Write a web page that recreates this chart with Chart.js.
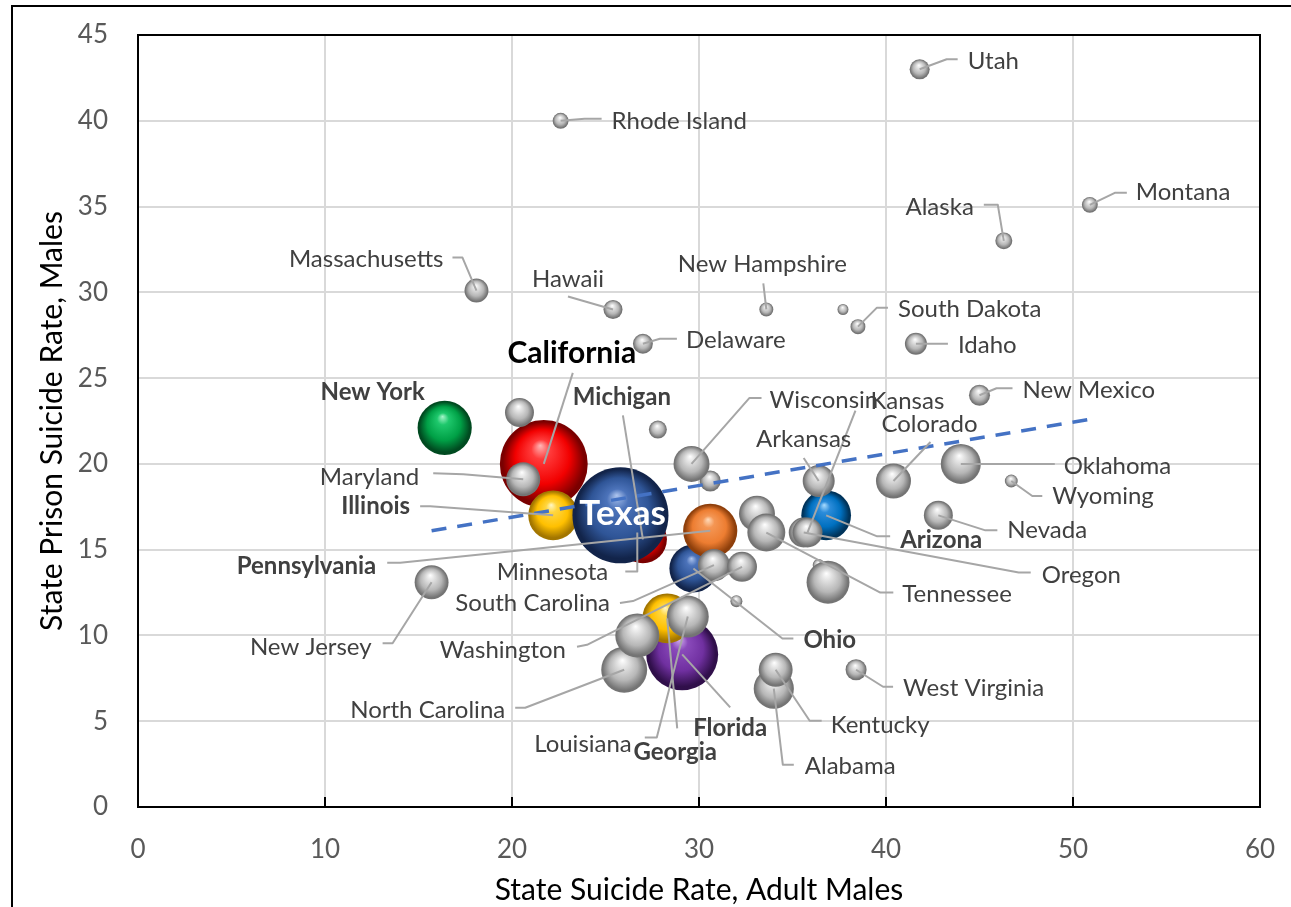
<!DOCTYPE html>
<html>
<head>
<meta charset="utf-8">
<title>State Prison Suicide Rate vs State Suicide Rate, Males</title>
<script src="https://cdn.jsdelivr.net/npm/chart.js"></script>
<style>
  html, body { margin: 0; padding: 0; background: #fff; overflow: hidden; }
  canvas { display: block; }
</style>
</head>
<body>
<canvas id="chart" width="1291" height="907"></canvas>
<script>
// ---- data (listed in drawing order: colour-highlighted states first, then the rest) ----
const stateNames = [
  'Minnesota', 'Michigan', 'California', 'Illinois', 'Texas', 'New York', 'Ohio', 'Pennsylvania', 'Florida', 'Georgia', 'Arizona',
  'Utah', 'Rhode Island', 'Montana', 'Alaska', 'Massachusetts', 'Hawaii', 'New Hampshire', '', 'South Dakota', 'Delaware',
  'Idaho', '', '', 'New Mexico', '', 'Wisconsin', 'Arkansas', 'Oregon', 'Kansas', 'Colorado',
  'Oklahoma', 'Wyoming', 'Nevada', '', 'Tennessee', '', '', '', 'South Carolina', 'Washington',
  'New Jersey', 'Maryland', 'West Virginia', 'Alabama', 'Kentucky', 'North Carolina', '', 'Louisiana'
];

// State suicide rate, adult males (x)
const adultMaleRate = [
  26.7, 27.0, 21.7, 22.2, 25.8, 16.4, 29.7, 30.6, 29.1, 28.3, 36.8,
  41.8, 22.6, 50.9, 46.3, 18.1, 25.4, 33.6, 37.7, 38.5, 27.0,
  41.6, 20.4, 27.8, 45.0, 30.6, 29.6, 36.4, 35.6, 35.8, 40.4,
  44.0, 46.7, 42.8, 33.1, 33.6, 36.4, 36.9, 32.0, 30.8, 32.3,
  15.7, 20.6, 38.4, 34.0, 34.1, 26.0, 26.7, 29.4
];

// State prison suicide rate, males (y)
const prisonMaleRate = [
  16.0, 15.6, 20.0, 17.0, 17.0, 22.1, 13.9, 16.1, 8.9, 11.0, 17.0,
  43.0, 40.0, 35.1, 33.0, 30.1, 29.0, 29.0, 29.0, 28.0, 27.0,
  27.0, 23.0, 22.0, 24.0, 19.0, 20.0, 19.0, 16.0, 16.0, 19.0,
  20.0, 19.0, 17.0, 17.1, 16.0, 14.1, 13.1, 12.0, 14.1, 14.0,
  13.1, 19.1, 8.0, 6.9, 8.0, 8.0, 10.0, 11.1
];

// Bubble size variable (thousands)
const bubbleSize = [
  10, 40, 134, 43, 160, 51, 40, 51, 90, 43, 43,
  7, 4.4, 4.4, 5, 10, 6.3, 3.4, 2.1, 3.9, 6.9,
  8.4, 14.6, 5.6, 7.7, 7.7, 22.5, 17.8, 15.6, 15.6, 21.3,
  27.8, 2.9, 14.6, 22.5, 25, 2.5, 32, 2.5, 17.8, 15.6,
  20, 20, 7.7, 28, 20, 36.7, 33.6, 30.6
];

// Linear trend line end points
const trendX = [15.7, 50.9];
const trendY = [16.1, 22.6];

// Axis ticks
const xTickValues = [0, 10, 20, 30, 40, 50, 60];
const yTickValues = [0, 5, 10, 15, 20, 25, 30, 35, 40, 45];

// ---- styling ----
const FONT = 'Lato, "Open Sans", "Noto Sans", sans-serif';
const MAX_RADIUS = 48;
const maxSize = Math.max(...bubbleSize);

const bubbleColors = {
  'California': 'red', 'Michigan': 'red', 'New York': 'green', 'Texas': 'navy', 'Ohio': 'navy',
  'Illinois': 'yellow', 'Georgia': 'yellow', 'Pennsylvania': 'orange', 'Arizona': 'blue', 'Florida': 'purple'
};
// highlight, light, base, rim
const sphereTones = {
  gray:   ['#ffffff', '#e4e4e4', '#b7b7b7', '#747474'],
  red:    ['#ffb8b8', '#ff3a3a', '#f20000', '#7a0000'],
  green:  ['#a6f5ca', '#1ec86c', '#00a046', '#004a20'],
  navy:   ['#adc4ee', '#4c73ba', '#2f5597', '#12244a'],
  yellow: ['#fff8c8', '#ffd640', '#ffc000', '#a37600'],
  orange: ['#ffdcbc', '#f49654', '#ed7d31', '#8e3f0b'],
  blue:   ['#aadcff', '#2c8cda', '#0070c0', '#00335a'],
  purple: ['#d4b2f2', '#8a4abb', '#7030a0', '#300f4a']
};

// Label placement: offsets in px from the bubble centre
const labelLayout = {
  'Utah':           { at: [48, -8],    align: 'left',   leader: [[27, -10], [38, -10]] },
  'Rhode Island':   { at: [51, 0],     align: 'left',   leader: [[24, -2], [41, -2]] },
  'Montana':        { at: [46, -13],   align: 'left',   leader: [[25, -12], [37, -12]] },
  'Alaska':         { at: [-30, -34],  align: 'right',  leader: [[-6, -36], [-20, -36]] },
  'Massachusetts':  { at: [-33, -31],  align: 'right',  leader: [[-14, -33], [-24, -33]] },
  'Hawaii':         { at: [-45, -30],  align: 'center', leader: [[-45, -13]] },
  'New Hampshire':  { at: [-4, -45],   align: 'center', leader: [[-3, -26]] },
  'South Dakota':   { at: [40, -17],   align: 'left',   leader: [[19, -19], [30, -19]] },
  'Delaware':       { at: [43, -4],    align: 'left',   leader: [[17, -5], [34, -5]] },
  'Idaho':          { at: [42, 1],     align: 'left',   leader: [[32, 0]] },
  'California':     { at: [28, -111],  align: 'center', leader: [[29, -91]], bold: true, size: 30, color: '#000000' },
  'New York':       { at: [-72, -36],  align: 'center', bold: true },
  'Michigan':       { at: [-21, -142], align: 'center', leader: [[-20, -124]], bold: true },
  'Wisconsin':      { at: [78, -64],   align: 'left',   leader: [[58, -66], [70, -66]] },
  'Kansas':         { at: [63, -131],  align: 'left',   leader: [[48, -122]] },
  'Oregon':         { at: [238, 43],   align: 'left',   leader: [[215, 40], [227, 40]] },
  'New Mexico':     { at: [43, -5],    align: 'left',   leader: [[17, -7], [33, -7]] },
  'Arkansas':       { at: [-15, -42],  align: 'center', leader: [[-15, -23]] },
  'Colorado':       { at: [36, -57],   align: 'center', leader: [[37, -39]] },
  'Oklahoma':       { at: [103, 2],    align: 'left',   leader: [[94, 0]] },
  'Wyoming':        { at: [41, 15],    align: 'left',   leader: [[21, 15], [31, 15]] },
  'Nevada':         { at: [69, 15],    align: 'left',   leader: [[47, 15], [59, 15]] },
  'Arizona':        { at: [74, 25],    align: 'left',   leader: [[51, 21], [64, 21]], bold: true },
  'Tennessee':      { at: [136, 62],   align: 'left',   leader: [[114, 60], [127, 60]] },
  'Maryland':       { at: [-104, -2],  align: 'right',  leader: [[-60, -5], [-90, -6]] },
  'Illinois':       { at: [-143, -9],  align: 'right',  leader: [[-123, -9], [-133, -9]], bold: true },
  'Pennsylvania':   { at: [-334, 35],  align: 'right',  leader: [[-310, 32], [-323, 32]], bold: true },
  'Minnesota':      { at: [-29, 40],   align: 'right',  leader: [[0, 39], [-12, 39]] },
  'South Carolina': { at: [-104, 38],  align: 'right',  leader: [[-81, 36], [-94, 38]] },
  'Washington':     { at: [-176, 83],  align: 'right',  leader: [[-155, 78], [-165, 80]] },
  'New Jersey':     { at: [-60, 65],   align: 'right',  leader: [[-39, 61], [-49, 61]] },
  'Ohio':           { at: [110, 72],   align: 'left',   leader: [[89, 70], [100, 70]], bold: true },
  'West Virginia':  { at: [47, 19],    align: 'left',   leader: [[27, 17], [37, 17]] },
  'Kentucky':       { at: [55, 56],    align: 'left',   leader: [[34, 51], [46, 51]] },
  'Alabama':        { at: [31, 78],    align: 'left',   leader: [[9, 76], [20, 76]] },
  'North Carolina': { at: [-119, 41],  align: 'right',  leader: [[-99, 38], [-109, 38]] },
  'Florida':        { at: [48, 74],    align: 'center', leader: [[48, 53]], bold: true },
  'Georgia':        { at: [8, 134],    align: 'center', leader: [[10, 110]], bold: true },
  'Louisiana':      { at: [-56, 128],  align: 'right',  leader: [[-31, 121], [-43, 121]] },
  'Texas':          { at: [2, -2],     align: 'center', bold: true, size: 35, color: '#ffffff' }
};

function bubbleRadius(size) {
  return MAX_RADIUS * Math.sqrt(size / maxSize);
}

function sphereFill(context) {
  const name = stateNames[context.dataIndex];
  const tone = sphereTones[bubbleColors[name] || 'gray'];
  const chart = context.chart;
  const raw = context.raw;
  if (!raw || !chart.scales.x || !chart.scales.y) return tone[2];
  const cx = chart.scales.x.getPixelForValue(raw.x);
  const cy = chart.scales.y.getPixelForValue(raw.y);
  const r = raw.r;
  if (!isFinite(cx) || !isFinite(cy) || !(r > 0)) return tone[2];
  const g = chart.ctx.createRadialGradient(cx - r * 0.08, cy - r * 0.42, 0, cx, cy, r);
  g.addColorStop(0, tone[0]);
  g.addColorStop(0.22, tone[1]);
  g.addColorStop(0.62, tone[2]);
  g.addColorStop(0.93, tone[3]);
  g.addColorStop(1, tone[3]);
  return g;
}

const bubbleData = stateNames.map((name, i) => ({
  x: adultMaleRate[i],
  y: prisonMaleRate[i],
  r: bubbleRadius(bubbleSize[i])
}));

const trendData = trendX.map((x, i) => ({ x: x, y: trendY[i] }));

// Frame, plot border, inside tick marks, leader lines and labels
const chartDecor = {
  id: 'chartDecor',
  beforeDraw(chart) {
    const { ctx, width, height } = chart;
    ctx.save();
    ctx.fillStyle = '#ffffff';
    ctx.fillRect(0, 0, width, height);
    ctx.strokeStyle = '#000000';
    ctx.lineWidth = 2;
    ctx.beginPath();
    ctx.moveTo(12, height + 10);
    ctx.lineTo(12, 6);
    ctx.lineTo(width + 10, 6);
    ctx.stroke();
    ctx.restore();
  },
  beforeDatasetsDraw(chart) {
    const { ctx, chartArea: a, scales: { x } } = chart;
    ctx.save();
    ctx.strokeStyle = '#000000';
    ctx.lineWidth = 2;
    ctx.strokeRect(a.left, a.top, a.right - a.left, a.bottom - a.top);
    ctx.beginPath();
    xTickValues.forEach(v => {
      const px = Math.round(x.getPixelForValue(v));
      ctx.moveTo(px, a.bottom);
      ctx.lineTo(px, a.bottom - 10);
    });
    ctx.stroke();
    ctx.restore();
  },
  afterDatasetsDraw(chart) {
    const { ctx, scales: { x, y } } = chart;
    ctx.save();
    ctx.strokeStyle = '#a6a6a6';
    ctx.lineWidth = 2;
    ctx.lineJoin = 'round';
    stateNames.forEach((name, i) => {
      const lay = labelLayout[name];
      if (!lay || !lay.leader) return;
      const cx = x.getPixelForValue(adultMaleRate[i]);
      const cy = y.getPixelForValue(prisonMaleRate[i]);
      ctx.beginPath();
      ctx.moveTo(cx, cy);
      lay.leader.forEach(([dx, dy]) => ctx.lineTo(cx + dx, cy + dy));
      ctx.stroke();
    });
    ctx.textBaseline = 'middle';
    stateNames.forEach((name, i) => {
      const lay = labelLayout[name];
      if (!lay) return;
      const cx = x.getPixelForValue(adultMaleRate[i]);
      const cy = y.getPixelForValue(prisonMaleRate[i]);
      ctx.font = (lay.bold ? 'bold ' : '') + (lay.size || 24) + 'px ' + FONT;
      ctx.fillStyle = lay.color || '#404040';
      ctx.textAlign = lay.align;
      ctx.fillText(name, cx + lay.at[0], cy + lay.at[1]);
    });
    ctx.restore();
  }
};

new Chart(document.getElementById('chart'), {
  type: 'bubble',
  data: {
    datasets: [
      {
        type: 'line',
        label: 'Linear trend',
        data: trendData,
        borderColor: '#4472c4',
        borderWidth: 3.5,
        borderDash: [15, 11],
        pointRadius: 0,
        fill: false,
        tension: 0,
        order: 0
      },
      {
        label: 'States',
        data: bubbleData,
        backgroundColor: sphereFill,
        borderWidth: 0,
        order: 1
      }
    ]
  },
  options: {
    responsive: false,
    animation: false,
    events: [],
    layout: { autoPadding: false, padding: { left: 0, top: 35, right: 31, bottom: 0 } },
    plugins: { legend: { display: false }, tooltip: { enabled: false } },
    scales: {
      x: {
        type: 'linear',
        min: 0,
        max: 60,
        afterBuildTicks: s => { s.ticks = xTickValues.map(v => ({ value: v })); },
        afterFit: s => { s.height = 100; s.paddingLeft = 0; s.paddingRight = 0; },
        grid: { color: '#d9d9d9', lineWidth: 2, drawTicks: false },
        border: { display: false },
        ticks: { padding: 30, color: '#595959', font: { family: FONT, size: 26, lineHeight: 1 } },
        title: {
          display: true,
          text: 'State Suicide Rate, Adult Males',
          color: '#000000',
          font: { family: FONT, size: 30, lineHeight: 1 },
          padding: { top: 0, bottom: 2 }
        }
      },
      y: {
        type: 'linear',
        min: 0,
        max: 45,
        afterBuildTicks: s => { s.ticks = yTickValues.map(v => ({ value: v })); },
        afterFit: s => { s.width = 138; s.paddingTop = 0; s.paddingBottom = 0; },
        grid: { color: '#d9d9d9', lineWidth: 2, drawTicks: false },
        border: { display: false },
        ticks: { padding: 30, color: '#595959', font: { family: FONT, size: 26, lineHeight: 1 } },
        title: {
          display: true,
          text: 'State Prison Suicide Rate, Males',
          color: '#000000',
          font: { family: FONT, size: 30, lineHeight: 1 },
          padding: { top: 37, bottom: 0 }
        }
      }
    }
  },
  plugins: [chartDecor]
});
</script>
</body>
</html>
